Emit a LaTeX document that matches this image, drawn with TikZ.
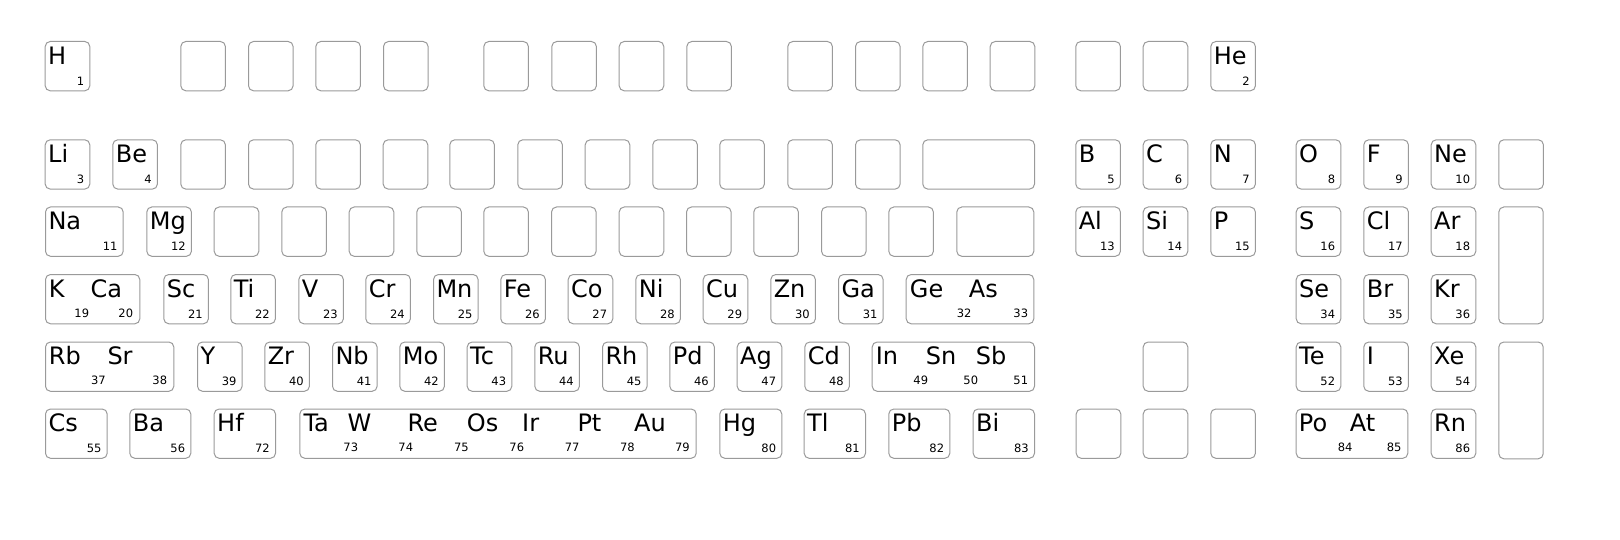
\documentclass[tikz,border=0pt]{standalone}
\usepackage{fontspec}
\setmainfont{DejaVu Sans}
\definecolor{keyline}{HTML}{9A9A9A}
\tikzset{
  keyb/.style={draw=keyline, line width=1pt, rounded corners=5pt, minimum height=49.3pt, inner sep=0pt, anchor=north west},
  sym/.style={anchor=base west, inner sep=0pt, font=\fontsize{24}{24}\selectfont},
  num/.style={anchor=base east, inner sep=0pt, font=\fontsize{11.5}{12}\selectfont}
}
% key: [width] name x top
\newcommand\kb[4][44.6]{\node[keyb, minimum width=#1pt] (#2) at (#3,-#4) {};}
% single element label: key, symbol, number
\newcommand\el[3]{%
  \node[sym] (#1s) at ([xshift=3.3pt,yshift=-23.3pt]#1.north west) {#2};
  \node[num] (#1n) at ([xshift=-6pt,yshift=6pt]#1.south east) {#3};}
% multi element: name, x, rowtop, symbol  / name, x right, rowtop, number
\newcommand\ms[4]{\node[sym] (#1) at (#2,-#3-23.3) {#4};}
\newcommand\mn[4]{\node[num] (#1) at (#2,-#3-43.3) {#4};}
\begin{document}
\begin{tikzpicture}[x=1pt,y=1pt]
\useasboundingbox (0,0) rectangle (1620,-540);
% ---- row 1
\def\t{41}
\kb{H}{44.7}{\t}\el{H}{H}{1}
\kb{ra}{180.3}{\t}\kb{rb}{248}{\t}\kb{rc}{315.3}{\t}\kb{rd}{383}{\t}
\kb{re}{483.3}{\t}\kb{rf}{551.3}{\t}\kb{rg}{618.7}{\t}\kb{rh}{686.3}{\t}
\kb{ri}{787.3}{\t}\kb{rj}{855}{\t}\kb{rk}{922.3}{\t}\kb{rl}{989.7}{\t}
\kb{rm}{1075.3}{\t}\kb{rn}{1142.7}{\t}
\kb{He}{1210.3}{\t}\el{He}{He}{2}
% ---- row 2
\def\t{139.3}
\kb{Li}{44.7}{\t}\el{Li}{Li}{3}
\kb{Be}{112.3}{\t}\el{Be}{Be}{4}
\kb{sa}{180.3}{\t}\kb{sb}{248}{\t}\kb{sc}{315.3}{\t}\kb{sd}{382.7}{\t}
\kb{se}{449.3}{\t}\kb{sf}{517.3}{\t}\kb{sg}{584.7}{\t}\kb{sh}{652.3}{\t}
\kb{si}{719.3}{\t}\kb{sj}{787.3}{\t}\kb{sk}{855}{\t}
\kb[111.7]{sl}{922.3}{\t}
\kb{B}{1075.3}{\t}\el{B}{B}{5}
\kb{C}{1142.7}{\t}\el{C}{C}{6}
\kb{N}{1210.3}{\t}\el{N}{N}{7}
\kb{O}{1295.7}{\t}\el{O}{O}{8}
\kb{F}{1363.3}{\t}\el{F}{F}{9}
\kb{Ne}{1430.7}{\t}\el{Ne}{Ne}{10}
\kb{sm}{1498.3}{\t}
% ---- row 3
\def\t{206.5}
\kb[77.7]{Na}{45}{\t}\el{Na}{Na}{11}
\kb{Mg}{146.3}{\t}\el{Mg}{Mg}{12}
\kb{ta}{213.7}{\t}\kb{tb}{281.3}{\t}\kb{tc}{348.7}{\t}\kb{td}{416.3}{\t}
\kb{te}{483.3}{\t}\kb{tf}{551}{\t}\kb{tg}{618.7}{\t}\kb{th}{686}{\t}
\kb{ti}{753.3}{\t}\kb{tj}{821}{\t}\kb{tk}{888.3}{\t}
\kb[77]{tl}{956.3}{\t}
\kb{Al}{1075.3}{\t}\el{Al}{Al}{13}
\kb{Si}{1142.7}{\t}\el{Si}{Si}{14}
\kb{P}{1210.3}{\t}\el{P}{P}{15}
\kb{S}{1295.7}{\t}\el{S}{S}{16}
\kb{Cl}{1363.3}{\t}\el{Cl}{Cl}{17}
\kb{Ar}{1430.7}{\t}\el{Ar}{Ar}{18}
\node[keyb, minimum width=44.4pt, minimum height=116.8pt] (tm) at (1498.3,-\t) {};
% ---- row 4
\def\t{274}
\kb[94.3]{KCa}{45}{\t}
\ms{Ks}{48.7}{\t}{K}\ms{Cas}{90.3}{\t}{Ca}
\mn{Kn}{89.3}{\t}{19}\mn{Can}{133.3}{\t}{20}
\kb{Sc}{163.3}{\t}\el{Sc}{Sc}{21}
\kb{Ti}{230.3}{\t}\el{Ti}{Ti}{22}
\kb{V}{298.3}{\t}\el{V}{V}{23}
\kb{Cr}{365.3}{\t}\el{Cr}{Cr}{24}
\kb{Mn}{433}{\t}\el{Mn}{Mn}{25}
\kb{Fe}{500.3}{\t}\el{Fe}{Fe}{26}
\kb{Co}{567.7}{\t}\el{Co}{Co}{27}
\kb{Ni}{635.3}{\t}\el{Ni}{Ni}{28}
\kb{Cu}{702.7}{\t}\el{Cu}{Cu}{29}
\kb{Zn}{770.3}{\t}\el{Zn}{Zn}{30}
\kb{Ga}{838}{\t}\el{Ga}{Ga}{31}
\kb[127.6]{GeAs}{905.7}{\t}
\ms{Ges}{909.7}{\t}{Ge}\ms{Ass}{968.7}{\t}{As}
\mn{Gen}{971.7}{\t}{32}\mn{Asn}{1028.3}{\t}{33}
\kb{Se}{1295.7}{\t}\el{Se}{Se}{34}
\kb{Br}{1363.3}{\t}\el{Br}{Br}{35}
\kb{Kr}{1430.7}{\t}\el{Kr}{Kr}{36}
% ---- row 5
\def\t{341.5}
\kb[128.3]{RbSr}{45}{\t}
\ms{Rbs}{48.7}{\t}{Rb}\ms{Srs}{107.3}{\t}{Sr}
\mn{Rbn}{106}{\t}{37}\mn{Srn}{167.3}{\t}{38}
\kb{Y}{197}{\t}\el{Y}{Y}{39}
\kb{Zr}{264.3}{\t}\el{Zr}{Zr}{40}
\kb{Nb}{332}{\t}\el{Nb}{Nb}{41}
\kb{Mo}{399.3}{\t}\el{Mo}{Mo}{42}
\kb{Tc}{466.7}{\t}\el{Tc}{Tc}{43}
\kb{Ru}{534.3}{\t}\el{Ru}{Ru}{44}
\kb{Rh}{602}{\t}\el{Rh}{Rh}{45}
\kb{Pd}{669.3}{\t}\el{Pd}{Pd}{46}
\kb{Ag}{736.7}{\t}\el{Ag}{Ag}{47}
\kb{Cd}{804.3}{\t}\el{Cd}{Cd}{48}
\kb[162.3]{InSnSb}{871.7}{\t}
\ms{Ins}{875.7}{\t}{In}\ms{Sns}{925.7}{\t}{Sn}\ms{Sbs}{975.7}{\t}{Sb}
\mn{Inn}{928.3}{\t}{49}\mn{Snn}{978.3}{\t}{50}\mn{Sbn}{1028.3}{\t}{51}
\kb{ua}{1142.7}{\t}
\kb{Te}{1295.7}{\t}\el{Te}{Te}{52}
\kb{I}{1363.3}{\t}\el{I}{I}{53}
\kb{Xe}{1430.7}{\t}\el{Xe}{Xe}{54}
\node[keyb, minimum width=44.4pt, minimum height=116.8pt] (ub) at (1498.3,-\t) {};
% ---- row 6
\def\t{408.5}
\kb[61.7]{Cs}{45}{\t}\el{Cs}{Cs}{55}
\kb[61]{Ba}{129.3}{\t}\el{Ba}{Ba}{56}
\kb[61.3]{Hf}{213.7}{\t}\el{Hf}{Hf}{72}
\kb[396.4]{TaAu}{299.3}{\t}
\ms{Tas}{303.3}{\t}{Ta}\ms{Ws}{347.3}{\t}{W}\ms{Res}{407.3}{\t}{Re}
\ms{Oss}{466.7}{\t}{Os}\ms{Irs}{522}{\t}{Ir}\ms{Pts}{577.3}{\t}{Pt}
\ms{Aus}{634}{\t}{Au}
\mn{Tan}{358.3}{\t}{73}\mn{Wn}{413.3}{\t}{74}\mn{Ren}{469}{\t}{75}
\mn{Osn}{524.3}{\t}{76}\mn{Irn}{579.7}{\t}{77}\mn{Ptn}{635}{\t}{78}
\mn{Aun}{690}{\t}{79}
\kb[62]{Hg}{719.3}{\t}\el{Hg}{Hg}{80}
\kb[61.3]{Tl}{803.7}{\t}\el{Tl}{Tl}{81}
\kb[61]{Pb}{888.3}{\t}\el{Pb}{Pb}{82}
\kb[61.3]{Bi}{972.7}{\t}\el{Bi}{Bi}{83}
\kb{va}{1075.7}{\t}\kb{vb}{1142.7}{\t}\kb{vc}{1210.3}{\t}
\kb[111.6]{PoAt}{1295.7}{\t}
\ms{Pos}{1298.7}{\t}{Po}\ms{Ats}{1349.7}{\t}{At}
\mn{Pon}{1352.7}{\t}{84}\mn{Atn}{1401.7}{\t}{85}
\kb{Rn}{1430.7}{\t}\el{Rn}{Rn}{86}
\end{tikzpicture}
\end{document}
